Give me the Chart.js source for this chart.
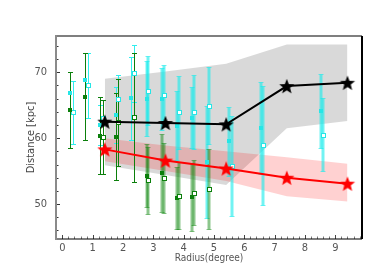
<!DOCTYPE html>
<html>
<head>
<meta charset="utf-8">
<script src="https://cdn.jsdelivr.net/npm/chart.js@4/dist/chart.umd.min.js"></script>
<style>
  html, body { margin: 0; padding: 0; background: #fff; }
  #wrap { width: 374px; height: 272px; }
</style>
</head>
<body>
<div id="wrap"><canvas id="grafico"></canvas></div>
<script>
// estrellas (modelo) y bandas
const radioEstrellas = [1.4, 3.4, 5.4, 7.4, 9.4];
const distNegra = [62.5, 62.3, 62.1, 67.9, 68.4];
const bandaNegraAlta = [69.0, 70.1, 71.3, 74.2, 74.2];
const bandaNegraBaja = [55.9, 54.4, 52.9, 61.5, 62.6];
const distRoja = [58.3, 56.6, 55.4, 54.0, 53.1];
const bandaRojaAlta = [60.0, 58.9, 58.0, 57.1, 56.1];
const bandaRojaBaja = [56.5, 55.0, 53.5, 51.2, 50.4];

// medidas con barras de error
const cianLlenoX = [0.25, 0.75, 1.23, 1.78, 2.27, 2.78, 3.28, 3.77, 4.28, 4.78, 5.50, 6.55, 8.52];
const cianLlenoY = [66.8, 68.8, 62.0, 63.5, 66.05, 66.0, 66.0, 61.9, 63.1, 56.45, 59.5, 61.55, 64.1];
const cianLlenoErr = [0, 0, 3.0, 4.3, 6.3, 5.7, 4.7, 5.2, 4.6, 8.5, 5.3, 6.95, 5.6];

const cianAbiertoX = [0.35, 0.84, 1.34, 1.85, 2.35, 2.83, 3.34, 3.86, 4.35, 4.85, 5.58, 6.62, 8.60];
const cianAbiertoY = [63.9, 68.0, 63.0, 66.0, 69.85, 67.2, 66.6, 63.9, 64.0, 64.9, 55.75, 58.9, 60.55];
const cianAbiertoErr = [4.75, 4.95, 2.8, 3.6, 4.35, 5.2, 4.55, 5.6, 5.6, 5.85, 7.55, 9.05, 5.6];

const verdeLlenoX = [0.25, 0.75, 1.23, 1.78, 2.78, 3.28, 3.77, 4.28];
const verdeLlenoY = [64.3, 66.3, 60.4, 60.25, 54.3, 54.7, 50.95, 51.05];
const verdeLlenoErr = [5.75, 6.6, 5.8, 6.6, 4.75, 5.9, 4.75, 5.2];

const verdeAbiertoX = [1.34, 1.85, 2.35, 2.83, 3.34, 3.86, 4.35, 4.85];
const verdeAbiertoY = [60.2, 62.4, 63.15, 53.6, 53.9, 51.25, 51.75, 52.3];
const verdeAbiertoErr = [5.6, 6.6, 9.75, 5.1, 5.3, 5.1, 5.0, 6.1];

const puntos = (xs, ys) => xs.map((x, i) => ({ x: x, y: ys[i] }));

function estrella(color) {
    const c = document.createElement("canvas");
    c.width = 18;
    c.height = 18;
    const g = c.getContext("2d");
    g.beginPath();
    for (let i = 0; i < 10; i++) {
        const r = i % 2 ? 3.4 : 8;
        const a = -Math.PI / 2 + (i * Math.PI) / 5;
        const px = 9 + r * Math.cos(a);
        const py = 9.8 + r * Math.sin(a);
        if (i === 0) g.moveTo(px, py);
        else g.lineTo(px, py);
    }
    g.closePath();
    g.fillStyle = color;
    g.fill();
    return c;
}

function dibujarSerie(ctx, sx, sy, xs, ys, errs, colorFino, colorGrueso, limite) {
    xs.forEach((x, i) => {
        if (!errs[i]) return;
        const grueso = x > limite;
        const px = Math.round(sx.getPixelForValue(x)) + (grueso ? 0 : 0.5);
        const arriba = Math.round(sy.getPixelForValue(ys[i] + errs[i])) + 0.5;
        const abajo = Math.round(sy.getPixelForValue(ys[i] - errs[i])) + 0.5;
        ctx.strokeStyle = grueso ? colorGrueso : colorFino;
        ctx.lineWidth = grueso ? 3 : 1;
        ctx.beginPath();
        ctx.moveTo(px, arriba);
        ctx.lineTo(px, abajo);
        ctx.stroke();
        ctx.lineWidth = 1;
        ctx.beginPath();
        ctx.moveTo(px - 2.5, arriba);
        ctx.lineTo(px + 2.5, arriba);
        ctx.moveTo(px - 2.5, abajo);
        ctx.lineTo(px + 2.5, abajo);
        ctx.stroke();
    });
}

function dibujarMarcas(ctx, sx, sy, xs, ys, color, abierto) {
    xs.forEach((x, i) => {
        const px = Math.round(sx.getPixelForValue(x));
        const py = Math.round(sy.getPixelForValue(ys[i]));
        if (abierto) {
            ctx.fillStyle = "#fff";
            ctx.fillRect(px - 2, py - 2, 4, 4);
            ctx.strokeStyle = color;
            ctx.lineWidth = 1;
            ctx.strokeRect(px - 1.5, py - 1.5, 4, 4);
        } else {
            ctx.fillStyle = color;
            ctx.fillRect(px - 2, py - 2, 4, 4);
        }
    });
}

const pluginErrores = {
    id: "barrasError",
    afterDatasetDraw(chart, args) {
        if (args.index !== 3) return;
        const ctx = chart.ctx;
        const sx = chart.scales.x;
        const sy = chart.scales.y;
        const a = chart.chartArea;
        ctx.save();
        ctx.beginPath();
        ctx.rect(a.left, a.top, a.right - a.left, a.bottom - a.top);
        ctx.clip();
        const cian = "#30eeee";
        const cianClaro = "rgba(20,235,235,0.6)";
        const verde = "#0b7f0b";
        const verdeClaro = "rgba(0,128,0,0.45)";
        dibujarSerie(ctx, sx, sy, cianLlenoX, cianLlenoY, cianLlenoErr, cian, cianClaro, 2.5);
        dibujarSerie(ctx, sx, sy, cianAbiertoX, cianAbiertoY, cianAbiertoErr, cian, cianClaro, 2.5);
        dibujarSerie(ctx, sx, sy, verdeLlenoX, verdeLlenoY, verdeLlenoErr, verde, verdeClaro, 2.5);
        dibujarSerie(ctx, sx, sy, verdeAbiertoX, verdeAbiertoY, verdeAbiertoErr, verde, verdeClaro, 2.5);
        dibujarMarcas(ctx, sx, sy, cianLlenoX, cianLlenoY, "#26e6e6", false);
        dibujarMarcas(ctx, sx, sy, cianAbiertoX, cianAbiertoY, "#26e6e6", true);
        dibujarMarcas(ctx, sx, sy, verdeLlenoX, verdeLlenoY, "#0b7f0b", false);
        dibujarMarcas(ctx, sx, sy, verdeAbiertoX, verdeAbiertoY, "#0b7f0b", true);
        ctx.restore();
    },
    afterDraw(chart) {
        const ctx = chart.ctx;
        const a = chart.chartArea;
        const sx = chart.scales.x;
        const sy = chart.scales.y;
        ctx.save();
        // marcas de los ejes hacia dentro
        ctx.lineWidth = 1;
        sx.ticks.forEach((t) => {
            const px = Math.round(sx.getPixelForValue(t.value)) + 0.5;
            const mayor = t.label !== "";
            ctx.strokeStyle = mayor ? "#444" : "#777";
            ctx.beginPath();
            ctx.moveTo(px, a.bottom);
            ctx.lineTo(px, a.bottom - (mayor ? 4 : 2.5));
            ctx.stroke();
        });
        sy.ticks.forEach((t) => {
            const py = Math.round(sy.getPixelForValue(t.value)) + 0.5;
            const mayor = t.label !== "";
            ctx.strokeStyle = "#333";
            ctx.beginPath();
            ctx.moveTo(a.left, py);
            ctx.lineTo(a.left + (mayor ? 4 : 2.5), py);
            ctx.stroke();
        });
        // marco
        ctx.strokeStyle = "#000";
        ctx.lineWidth = 1.2;
        ctx.beginPath();
        ctx.moveTo(a.left, a.top);
        ctx.lineTo(a.right, a.top);
        ctx.moveTo(a.left, a.bottom);
        ctx.lineTo(a.right, a.bottom);
        ctx.stroke();
        ctx.lineWidth = 2;
        ctx.beginPath();
        ctx.moveTo(a.right, a.top);
        ctx.lineTo(a.right, a.bottom);
        ctx.stroke();
        ctx.strokeStyle = "#8a8a8a";
        ctx.beginPath();
        ctx.moveTo(a.left, a.top - 1);
        ctx.lineTo(a.left, a.bottom + 1);
        ctx.stroke();
        ctx.restore();
    },
};

const fuenteEjes = { family: "Liberation Sans Narrow, DejaVu Sans Condensed, sans-serif", size: 11 };

const configGrafico = {
    type: "scatter",
    data: {
        datasets: [
            {
                data: puntos(radioEstrellas, bandaNegraBaja),
                showLine: true,
                borderColor: "transparent",
                pointRadius: 0,
                fill: false,
                order: 5,
            },
            {
                data: puntos(radioEstrellas, bandaNegraAlta),
                showLine: true,
                borderColor: "transparent",
                backgroundColor: "rgba(0,0,0,0.15)",
                pointRadius: 0,
                fill: "-1",
                order: 4,
            },
            {
                data: puntos(radioEstrellas, bandaRojaBaja),
                showLine: true,
                borderColor: "transparent",
                pointRadius: 0,
                fill: false,
                order: 3,
            },
            {
                data: puntos(radioEstrellas, bandaRojaAlta),
                showLine: true,
                borderColor: "transparent",
                backgroundColor: "rgba(255,0,0,0.18)",
                pointRadius: 0,
                fill: "-1",
                order: 2,
            },
            {
                data: puntos(radioEstrellas, distRoja),
                showLine: true,
                borderColor: "#ff0000",
                borderWidth: 2,
                pointStyle: estrella("#ff0000"),
                order: 1,
            },
            {
                data: puntos(radioEstrellas, distNegra),
                showLine: true,
                borderColor: "#000",
                borderWidth: 2,
                pointStyle: estrella("#000"),
                order: 0,
            },
        ],
    },
    options: {
        responsive: true,
        maintainAspectRatio: false,
        animation: false,
        layout: { padding: { left: 0, right: 12, top: 36, bottom: 0 } },
        plugins: {
            legend: { display: false },
            tooltip: { enabled: false },
        },
        scales: {
            x: {
                type: "linear",
                min: -0.21,
                max: 9.88,
                grid: { display: false, drawTicks: false },
                border: { display: false },
                afterFit: (s) => { s.height = 33; },
                ticks: {
                    stepSize: 0.2,
                    includeBounds: false,
                    autoSkip: false,
                    maxRotation: 0,
                    padding: 3,
                    color: "#555",
                    font: fuenteEjes,
                    callback: (v) => (Math.abs(v - Math.round(v)) < 1e-6 ? String(Math.round(v)) : ""),
                },
                title: {
                    display: true,
                    text: "Radius(degree)",
                    color: "#555",
                    font: { family: fuenteEjes.family, size: 10 },
                    padding: { top: 0, bottom: 8 },
                },
            },
            y: {
                min: 44.7,
                max: 75.5,
                grid: { display: false, drawTicks: false },
                border: { display: false },
                afterFit: (s) => { s.width = 56; },
                ticks: {
                    stepSize: 2,
                    includeBounds: false,
                    autoSkip: false,
                    padding: 9,
                    color: "#555",
                    font: fuenteEjes,
                    callback: (v) => (Math.abs(v % 10) < 1e-6 ? String(v) : ""),
                },
                title: {
                    display: true,
                    text: "Distance [kpc]",
                    color: "#444",
                    font: { family: fuenteEjes.family, size: 11 },
                    padding: { top: 25, bottom: 0 },
                },
            },
        },
    },
    plugins: [pluginErrores],
};

const grafico = new Chart(document.getElementById("grafico"), configGrafico);
</script>
</body>
</html>
